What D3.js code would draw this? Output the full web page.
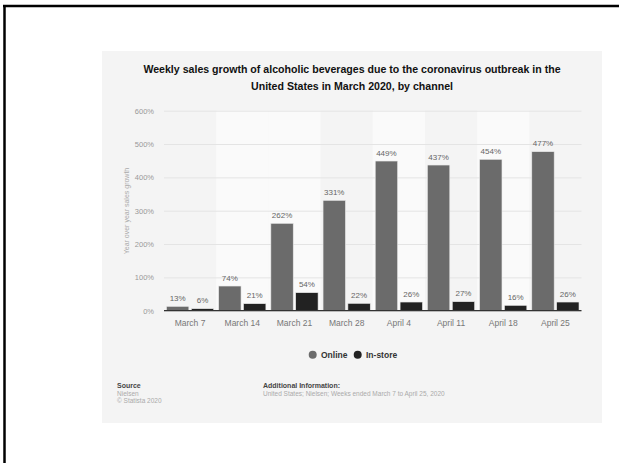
<!DOCTYPE html>
<html><head><meta charset="utf-8">
<script src="https://cdn.jsdelivr.net/npm/d3@7"></script>
<style>body{margin:0;background:#fff;}svg{display:block;font-family:"Liberation Sans",Arial,sans-serif;}</style>
</head><body>
<script>
const categories = ["March 7","March 14","March 21","March 28","April 4","April 11","April 18","April 25"];
const seriesNames = ["Online","In-store"];
const online = [13,74,262,331,449,437,454,477];
const inStore = [6,21,54,22,26,27,16,26];
const yTicks = [0,100,200,300,400,500,600];
const colors = {"Online":"#6b6b6b","In-store":"#222222"};
const titleLines = ["Weekly sales growth of alcoholic beverages due to the coronavirus outbreak in the","United States in March 2020, by channel"];
const yTitle = "Year over year sales growth";
const lightBands = ["March 14","March 21","April 4","April 18"];

const W=619,H=463;
const svg=d3.select("body").append("svg").attr("width",W).attr("height",H);
svg.append("rect").attr("width",W).attr("height",H).attr("fill","#fff");
// frame
svg.append("line").attr("x1",4.5).attr("x2",4.5).attr("y1",5).attr("y2",H).attr("stroke","#000").attr("stroke-width",2.5);
svg.append("line").attr("x1",3).attr("x2",W).attr("y1",6).attr("y2",6).attr("stroke","#000").attr("stroke-width",2.5);
// panel
svg.append("rect").attr("x",102).attr("y",51).attr("width",500).attr("height",372).attr("fill","#f4f4f4");

titleLines.forEach((t,i)=>{
  svg.append("text").attr("x",352).attr("y",73+i*16.5).attr("text-anchor","middle")
    .attr("font-size",10.6).attr("font-weight","bold").attr("fill","#111").text(t);
});

const x=d3.scaleBand().domain(categories).range([164,581.5]).paddingInner(0).paddingOuter(0);
const xs=d3.scaleBand().domain(seriesNames).range([0,x.bandwidth()]).paddingInner(0.1).paddingOuter(0.1);
const y=d3.scaleLinear().domain([0,600]).range([310.7,110.7]);

// light bands
svg.append("g").selectAll("rect").data(lightBands).join("rect")
  .attr("x",d=>x(d)).attr("width",x.bandwidth()).attr("y",y(600)).attr("height",y(0)-y(600)).attr("fill","#fafafa");

// grid
const yAxis=d3.axisLeft(y).tickValues(yTicks).tickFormat(d=>d+"%").tickSize(-(581.5-164)).tickPadding(10);
const gy=svg.append("g").attr("transform","translate(164,0)").call(yAxis);
gy.select(".domain").remove();
gy.selectAll(".tick line").attr("stroke","#e4e4e4").attr("stroke-width",1);
gy.selectAll(".tick text").attr("font-size",7.5).attr("fill","#999").attr("font-family","Liberation Sans, Arial, sans-serif");

svg.append("text").attr("transform","translate(129,211) rotate(-90)").attr("text-anchor","middle")
  .attr("font-size",7).attr("fill","#aaa").text(yTitle);

const data=categories.map((c,i)=>({c,vals:[{s:"Online",v:online[i]},{s:"In-store",v:inStore[i]}]}));
const g=svg.append("g");
const grp=g.selectAll("g").data(data).join("g").attr("transform",d=>`translate(${x(d.c)},0)`);
grp.selectAll("rect").data(d=>d.vals).join("rect")
  .attr("x",d=>xs(d.s)).attr("width",xs.bandwidth()).attr("y",d=>y(d.v)).attr("height",d=>y(0)-y(d.v))
  .attr("fill",d=>colors[d.s]).attr("stroke","#e8e8e8").attr("stroke-width",0.6);
grp.selectAll("text").data(d=>d.vals).join("text")
  .attr("x",d=>xs(d.s)+xs.bandwidth()/2).attr("y",d=>y(d.v)-5.5).attr("text-anchor","middle")
  .attr("font-size",8).attr("fill","#666").text(d=>d.v+"%");

// baseline
svg.append("line").attr("x1",164).attr("x2",581.5).attr("y1",y(0)).attr("y2",y(0)).attr("stroke","#333").attr("stroke-width",1.2);

const gx=svg.append("g").attr("transform",`translate(0,${y(0)})`).call(d3.axisBottom(x).tickSize(0).tickPadding(9));
gx.select(".domain").remove();
gx.selectAll(".tick text").attr("font-size",8.5).attr("fill","#777").attr("font-family","Liberation Sans, Arial, sans-serif");

// legend
const leg=[{s:"Online",cx:312.7,tx:321},{s:"In-store",cx:357.7,tx:366}];
leg.forEach(l=>{
  svg.append("circle").attr("cx",l.cx).attr("cy",354.7).attr("r",4).attr("fill",colors[l.s]);
  svg.append("text").attr("x",l.tx).attr("y",358).attr("font-size",8.5).attr("font-weight","bold").attr("fill","#333").text(l.s);
});

// footer
svg.append("text").attr("x",117).attr("y",388).attr("font-size",7).attr("font-weight","bold").attr("fill","#444").text("Source");
svg.append("text").attr("x",117).attr("y",395.5).attr("font-size",6.5).attr("fill","#aaa").text("Nielsen");
svg.append("text").attr("x",117).attr("y",403).attr("font-size",6.5).attr("fill","#aaa").text("© Statista 2020");
svg.append("text").attr("x",263).attr("y",388).attr("font-size",7).attr("font-weight","bold").attr("fill","#444").text("Additional Information:");
svg.append("text").attr("x",263).attr("y",395.5).attr("font-size",6.5).attr("fill","#aaa").text("United States; Nielsen; Weeks ended March 7 to April 25, 2020");
</script>
</body></html>
